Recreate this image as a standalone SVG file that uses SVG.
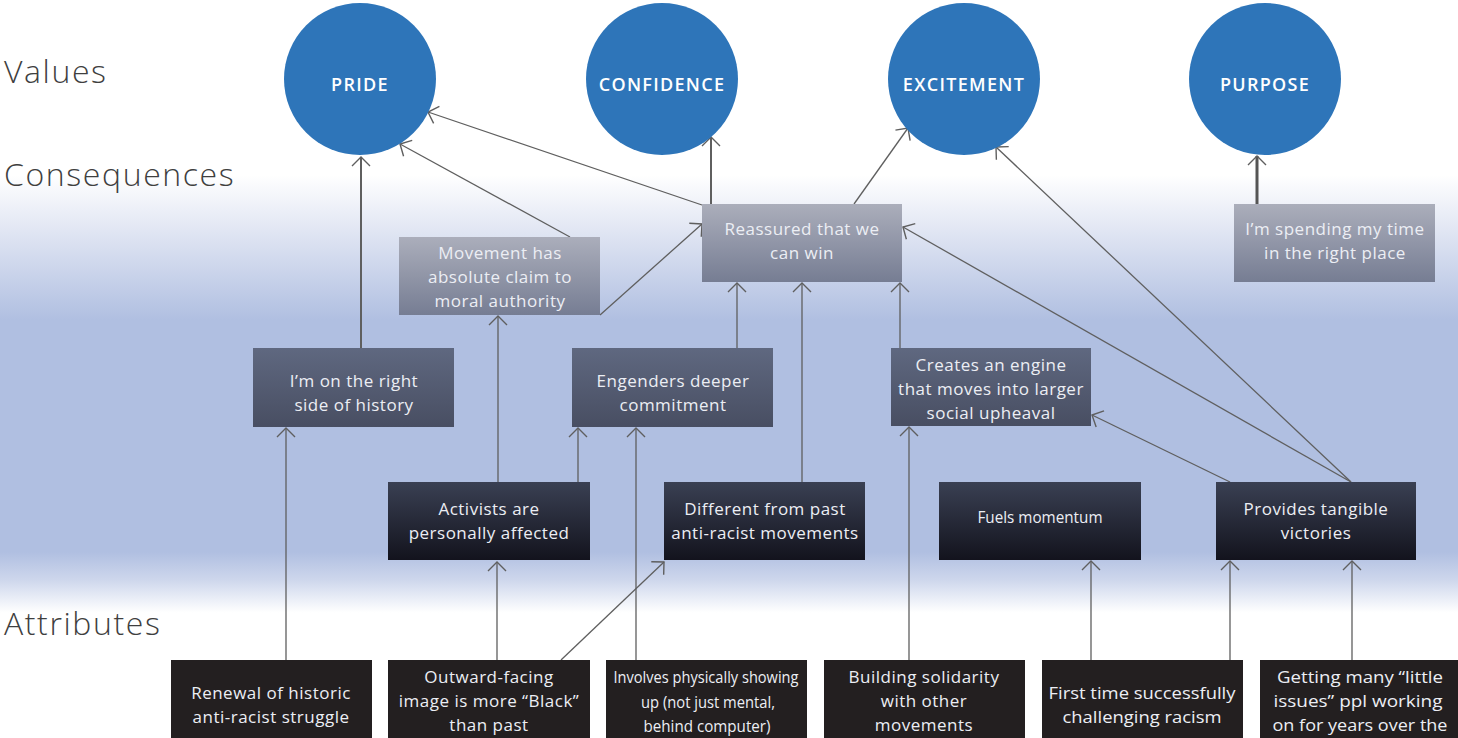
<svg xmlns="http://www.w3.org/2000/svg" width="1458" height="738" viewBox="0 0 1458 738">
<defs>
<linearGradient id="bg" gradientUnits="userSpaceOnUse" x1="0" y1="0" x2="0" y2="738">
<stop offset="0.237" stop-color="#ffffff"/>
<stop offset="0.30" stop-color="#e6eaf5"/>
<stop offset="0.434" stop-color="#b0bfe1"/>
<stop offset="0.748" stop-color="#b0bfe1"/>
<stop offset="0.785" stop-color="#cdd6ec"/>
<stop offset="0.83" stop-color="#ffffff"/>
</linearGradient>
<linearGradient id="gLight" x1="0" y1="0" x2="0" y2="1">
<stop offset="0" stop-color="#abaebb"/>
<stop offset="1" stop-color="#767d93"/>
</linearGradient>
<linearGradient id="gMid" x1="0" y1="0" x2="0" y2="1">
<stop offset="0" stop-color="#5f6880"/>
<stop offset="1" stop-color="#484e62"/>
</linearGradient>
<linearGradient id="gDark" x1="0" y1="0" x2="0" y2="1">
<stop offset="0" stop-color="#3a4053"/>
<stop offset="1" stop-color="#13131d"/>
</linearGradient>
<marker id="arr" markerUnits="userSpaceOnUse" viewBox="-12 -12 14 24" markerWidth="14" markerHeight="24" refX="0" refY="0" orient="auto" overflow="visible">
<path d="M-9,-9 L0,0 L-9,9" fill="none" stroke="#5f5f5f" stroke-width="1.4"/>
</marker>
<style>
.side{font-family:"Open Sans","Liberation Sans",sans-serif;font-size:32px;font-weight:300;fill:#3f3f3f;letter-spacing:1.6px}
.val{fill:#2e75b9}
.vt{font-family:"Open Sans","Liberation Sans",sans-serif;font-size:18px;font-weight:600;fill:#ffffff;text-anchor:middle;letter-spacing:1.3px}
.t{font-family:"Open Sans","Liberation Sans",sans-serif;font-size:17px;fill:#eceef4;text-anchor:middle;letter-spacing:0.5px}
.n{font-family:"Open Sans","Liberation Sans",sans-serif;font-size:17px;fill:#eceef4;text-anchor:middle}
.light{fill:url(#gLight)}
.mid{fill:url(#gMid)}
.dark{fill:url(#gDark)}
.attr{fill:#231f20}
.e{fill:none;stroke:#5f5f5f;stroke-width:1.3;marker-end:url(#arr)}
.e2{stroke-width:2}
.e3{stroke-width:3;stroke:#555}
</style>
</defs>
<rect x="0" y="0" width="1458" height="738" fill="url(#bg)"/>
<text class="side" x="4" y="83">Values</text>
<text class="side" x="4" y="186">Consequences</text>
<text class="side" x="4" y="635">Attributes</text>

<g id="connectors">
<path class="e e2" d="M361,348 V157"/>
<path class="e" d="M570,237 L400,144"/>
<path class="e" d="M702,205 L428,112"/>
<path class="e e2" d="M711,204 V137"/>
<path class="e" d="M854,204 L908,128"/>
<path class="e" d="M600,315 L702,224"/>
<path class="e" d="M498,482 V316"/>
<path class="e" d="M578,482 V428"/>
<path class="e" d="M737,348 V283"/>
<path class="e" d="M802,482 V283"/>
<path class="e" d="M900,348 V283"/>
<path class="e" d="M1351,482 L903,227"/>
<path class="e" d="M1351,482 L996,147"/>
<path class="e" d="M1230,482 L1092,415"/>
<path class="e" d="M286,660 V428"/>
<path class="e" d="M497,660 V562"/>
<path class="e" d="M561,660 L664,562"/>
<path class="e" d="M636,660 V428"/>
<path class="e" d="M909,660 V427"/>
<path class="e" d="M1091,660 V561"/>
<path class="e" d="M1230,660 V561"/>
<path class="e" d="M1352,660 V561"/>
<path class="e e3" d="M1257,204 V156"/>
</g>

<g id="pride"><circle class="val" cx="360" cy="79" r="76"/><text class="vt" x="360" y="91">PRIDE</text></g>
<g id="confidence"><circle class="val" cx="662" cy="79" r="76"/><text class="vt" x="662" y="91">CONFIDENCE</text></g>
<g id="excitement"><circle class="val" cx="964" cy="79" r="76"/><text class="vt" x="964" y="91">EXCITEMENT</text></g>
<g id="purpose"><circle class="val" cx="1265" cy="79" r="76"/><text class="vt" x="1265" y="91">PURPOSE</text></g>

<g id="moral-authority"><rect class="light" x="399" y="237" width="201" height="78"/>
<text class="t" x="500" y="259">Movement has</text><text class="t" x="500" y="283">absolute claim to</text><text class="t" x="500" y="307">moral authority</text></g>
<g id="reassured"><rect class="light" x="702" y="204" width="200" height="78"/>
<text class="t" x="802" y="235">Reassured that we</text><text class="t" x="802" y="259">can win</text></g>
<g id="right-place"><rect class="light" x="1234" y="204" width="201" height="78"/>
<text class="t" x="1335" y="235">I’m spending my time</text><text class="t" x="1335" y="259">in the right place</text></g>

<g id="right-side"><rect class="mid" x="253" y="348" width="201" height="79"/>
<text class="t" x="354" y="387">I’m on the right</text><text class="t" x="354" y="411">side of history</text></g>
<g id="engenders"><rect class="mid" x="572" y="348" width="201" height="79"/>
<text class="t" x="673" y="387">Engenders deeper</text><text class="t" x="673" y="411">commitment</text></g>
<g id="engine"><rect class="mid" x="891" y="348" width="200" height="78"/>
<text class="t" x="991" y="371">Creates an engine</text><text class="t" x="991" y="395">that moves into larger</text><text class="t" x="991" y="419">social upheaval</text></g>

<g id="activists"><rect class="dark" x="388" y="482" width="202" height="78"/>
<text class="t" x="489" y="515">Activists are</text><text class="t" x="489" y="539">personally affected</text></g>
<g id="different"><rect class="dark" x="664" y="482" width="201" height="78"/>
<text class="t" x="765" y="515">Different from past</text><text class="t" x="765" y="539">anti-racist movements</text></g>
<g id="fuels"><rect class="dark" x="939" y="482" width="202" height="78"/>
<text class="n" x="1040" y="523" font-size="16" textLength="125" lengthAdjust="spacingAndGlyphs">Fuels momentum</text></g>
<g id="victories"><rect class="dark" x="1216" y="482" width="200" height="78"/>
<text class="t" x="1316" y="515">Provides tangible</text><text class="t" x="1316" y="539">victories</text></g>

<g id="renewal"><rect class="attr" x="171" y="660" width="201" height="78"/>
<text class="t" x="271" y="699">Renewal of historic</text><text class="t" x="271" y="723">anti-racist struggle</text></g>
<g id="outward"><rect class="attr" x="388" y="660" width="202" height="78"/>
<text class="t" x="489" y="683">Outward-facing</text><text class="t" x="489" y="707">image is more “Black”</text><text class="t" x="489" y="731">than past</text></g>
<g id="physical"><rect class="attr" x="606" y="660" width="201" height="78"/>
<text class="n" x="706" y="683" textLength="185" lengthAdjust="spacingAndGlyphs">Involves physically showing</text>
<text class="n" x="708" y="708" textLength="134" lengthAdjust="spacingAndGlyphs">up (not just mental,</text>
<text class="n" x="707" y="732" textLength="127" lengthAdjust="spacingAndGlyphs">behind computer)</text></g>
<g id="solidarity"><rect class="attr" x="824" y="660" width="201" height="78"/>
<text class="t" x="924" y="683">Building solidarity</text><text class="t" x="924" y="707">with other</text><text class="t" x="924" y="731">movements</text></g>
<g id="first-time"><rect class="attr" x="1042" y="660" width="201" height="78"/>
<text class="n" x="1142" y="699" textLength="187" lengthAdjust="spacingAndGlyphs">First time successfully</text>
<text class="n" x="1142" y="723" textLength="159" lengthAdjust="spacingAndGlyphs">challenging racism</text></g>
<g id="little-issues"><rect class="attr" x="1260" y="660" width="198" height="78"/>
<text class="n" x="1360" y="683" textLength="166" lengthAdjust="spacingAndGlyphs">Getting many “little</text>
<text class="n" x="1358" y="707" textLength="169" lengthAdjust="spacingAndGlyphs">issues” ppl working</text>
<text class="n" x="1360" y="731" textLength="175" lengthAdjust="spacingAndGlyphs">on for years over the</text></g>
</svg>
